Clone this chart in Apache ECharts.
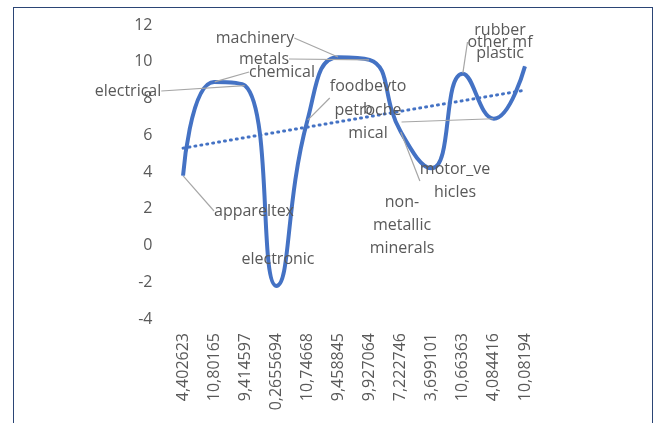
<!DOCTYPE html>
<html>

<head>
    <title></title>
    <meta charset="utf-8">
    <script src="https://cdn.jsdelivr.net/npm/echarts@6/dist/echarts.min.js"></script>
    <style>
        html,
        body {
            margin: 0;
            padding: 0;
            background: #fff;
        }

        #frame {
            position: absolute;
            left: 13px;
            top: 7px;
            width: 638px;
            height: 440px;
            border: 1.5px solid #2b4575;
        }

        #main {
            position: absolute;
            left: 0;
            top: 0;
            width: 657px;
            height: 423px;
        }
    </style>
</head>

<body>
    <div id="frame"></div>
    <div id="main"></div>
    <script type="text/javascript">
        // 数据
        var categories = ["4,402623", "10,80165", "9,414597", "0,2655694", "10,74668", "9,458845",
            "9,927064", "7,222746", "3,699101", "10,66363", "4,084416", "10,08194"];
        var values = [3.8, 8.9, 8.7, -2.2, 6.8, 10.25, 10.1, 6.2, 4.2, 9.35, 6.9, 9.75];
        var labelNames = ["appareltex", "chemical", "electrical", "electronic", "foodbevto\nb", "machinery",
            "metals", "motor_ve\nhicles", "non-\nmetallic\nminerals", "other mf", "petroche\nmical", "rubber\nplastic"];
        var trendEnds = [5.3, 8.45];
        var yTicks = [-4, 12, 2];

        // label placement (pixel centres) and leader style
        var labelPos = [[254, 211], [282, 72], [128, 91], [278, 259], [368, 98], [255, 38],
            [264, 59], [455, 181], [402, 225], [500, 42], [368, 122], [500, 42]];
        var leader = ["elbowDown", "toLeft", "toRight", "", "toLeftTop", "elbowRight",
            "toRight", "elbowUnder", "", "toBottom", "toRight", ""];

        function leaderPoints(kind, pt, b) {
            if (kind == "elbowDown") return [pt, [b.left - 18, b.mid - 3], [b.left - 7, b.mid]];
            if (kind == "toLeft") return [pt, [b.left - 6, b.mid - 2]];
            if (kind == "toRight") return [pt, [b.right + 6, b.mid]];
            if (kind == "toLeftTop") return [pt, [b.left - 5, b.top + 8]];
            if (kind == "elbowRight") return [pt, [b.right + 20, b.mid - 1], [b.right + 6, b.mid - 1]];
            if (kind == "elbowUnder") return [pt, [pt[0] + 2, b.mid + 1], [b.left, b.mid - 4]];
            if (kind == "toBottom") return [pt, [b.left + 14, b.bottom + 10]];
            return null;
        }

        var trendData = categories.map(function (c, i) {
            if (i == 0) return trendEnds[0];
            if (i == categories.length - 1) return trendEnds[1];
            return null;
        });

        var lineData = values.map(function (v, i) {
            return { value: v, labelLine: { show: leader[i] != "" } };
        });

        var myChart = echarts.init(document.getElementById('main'));
        var textColor = '#595959';
        var font = 'Open Sans';
        var option = {
            animation: false,
            grid: {
                left: 167.5,
                right: 116.5,
                top: 25,
                bottom: 104,
                outerBoundsMode: 'none'
            },
            xAxis: {
                type: 'category',
                data: categories,
                axisLine: { show: false },
                axisTick: { show: false },
                axisLabel: {
                    rotate: 90,
                    interval: 0,
                    margin: 14,
                    color: textColor,
                    fontFamily: font,
                    fontSize: 16
                }
            },
            yAxis: {
                type: 'value',
                min: yTicks[0],
                max: yTicks[1],
                interval: yTicks[2],
                axisLine: { show: false },
                axisTick: { show: false },
                splitLine: { show: false },
                axisLabel: {
                    margin: 15,
                    color: textColor,
                    fontFamily: font,
                    fontSize: 16
                }
            },
            series: [{
                type: 'line',
                data: lineData,
                smooth: 0.5,
                showSymbol: true,
                symbol: 'circle',
                symbolSize: 1,
                itemStyle: { color: '#4472C4' },
                lineStyle: { color: '#4472C4', width: 4 },
                z: 3,
                label: {
                    show: true,
                    formatter: function (p) { return labelNames[p.dataIndex]; },
                    color: textColor,
                    fontFamily: font,
                    fontSize: 16,
                    lineHeight: 23
                },
                labelLine: {
                    show: true,
                    lineStyle: { color: '#a6a6a6', width: 1.2 }
                },
                labelLayout: function (params) {
                    var i = params.dataIndex;
                    var p = labelPos[i];
                    var w = params.labelRect.width, h = params.labelRect.height;
                    var b = { left: p[0] - w / 2, right: p[0] + w / 2, top: p[1] - h / 2, bottom: p[1] + h / 2, mid: p[1] };
                    var pt = [params.rect.x + params.rect.width / 2, params.rect.y + params.rect.height / 2];
                    var res = { x: p[0], y: p[1], align: 'center', verticalAlign: 'middle' };
                    var pts = leaderPoints(leader[i], pt, b);
                    if (pts) res.labelLinePoints = pts;
                    return res;
                }
            }, {
                type: 'line',
                data: trendData,
                connectNulls: true,
                showSymbol: false,
                z: 2,
                lineStyle: { color: '#4472C4', width: 3, type: [1, 5], cap: 'round' }
            }]
        };
        myChart.setOption(option);
    </script>
</body>

</html>
